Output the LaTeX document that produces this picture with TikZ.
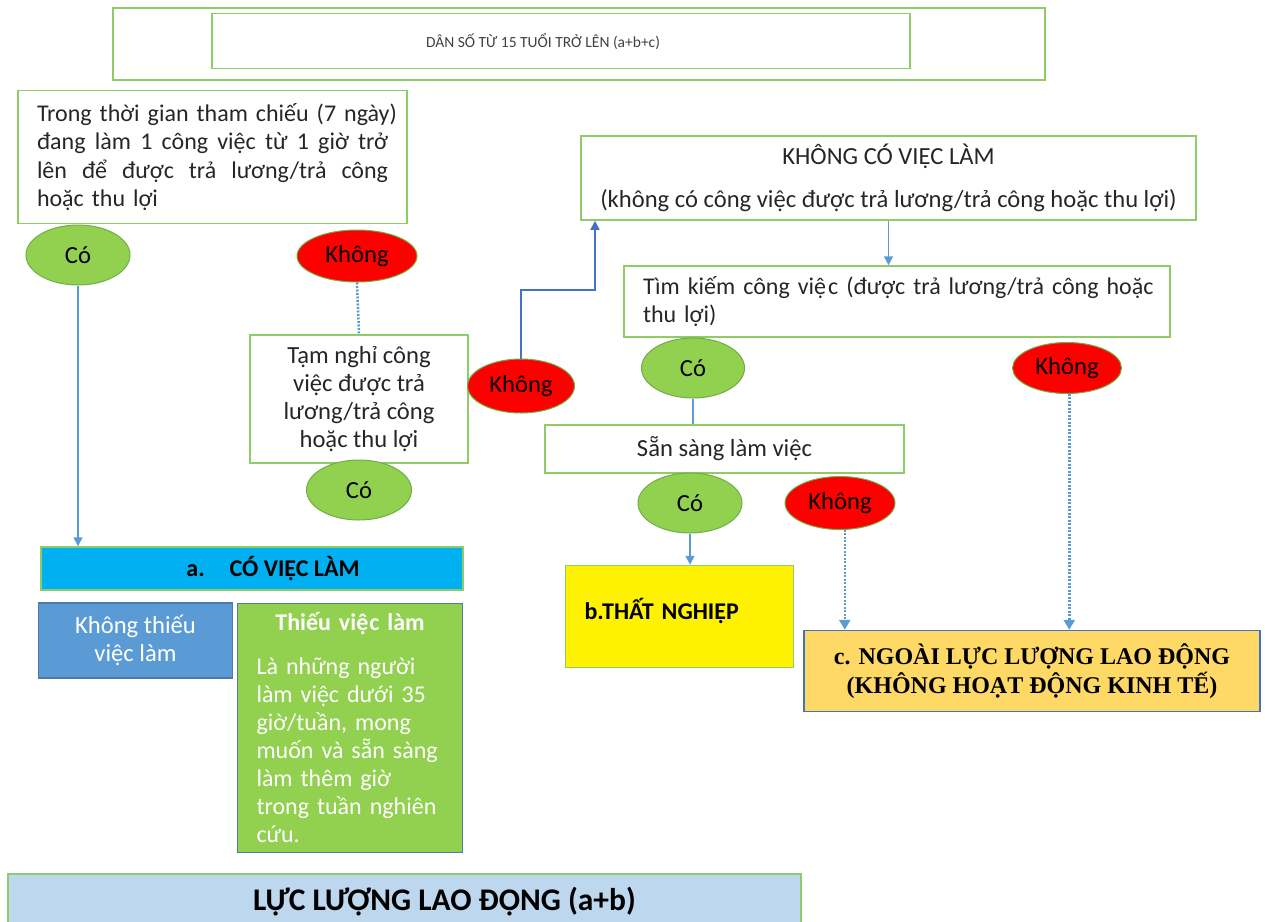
\documentclass[tikz,border=0pt]{standalone}
\usepackage{fontspec}
\setmainfont{Carlito}
\newfontfamily\serifbf{Liberation Serif}
\usetikzlibrary{shapes.geometric,arrows.meta}

\definecolor{boxgreen}{RGB}{143,204,104}
\definecolor{leafgreen}{RGB}{146,208,80}
\definecolor{rimgreen}{RGB}{112,173,71}
\definecolor{skyblue}{RGB}{0,176,240}
\definecolor{midblue}{RGB}{91,155,213}
\definecolor{deepblue}{RGB}{68,114,196}
\definecolor{slate}{RGB}{80,120,170}
\definecolor{paleblue}{RGB}{189,215,238}
\definecolor{gold}{RGB}{255,217,102}
\definecolor{inkgray}{RGB}{38,38,38}

\tikzset{
  txt/.style={font=\fontsize{24.6}{28}\selectfont, text=inkgray},
  plainbox/.style={rectangle, draw=boxgreen, line width=1.5pt, inner sep=0pt, txt},
  yesoval/.style={ellipse, draw=rimgreen, line width=1pt, fill=leafgreen, inner sep=0pt, txt, text=black},
  nooval/.style={yesoval, fill=red},
  link/.style={draw=midblue, line width=1.5pt},
  arr/.style={link, -{Triangle[width=9pt,length=9pt]}},
  dotted line/.style={link, line width=2.5pt, dash pattern=on 2pt off 1.5pt},
  dotarr/.style={dotted line, -{Triangle[width=11pt,length=10pt]}}
}

\begin{document}
\begin{tikzpicture}[x=1pt,y=-1pt]
\useasboundingbox (0,0) rectangle (1265,921);

% top
\node[plainbox, minimum width=932, minimum height=72] (popframe) at (579,44) {};
\node[plainbox, minimum width=698, minimum height=55, font=\fontsize{15.5}{18}\selectfont, text=black!75] (pop) at (561,41)
  {DÂN SỐ TỪ 15 TUỔI TRỞ LÊN (a+b+c)\hspace*{36pt}};

% left branch
\node[plainbox, minimum width=389, minimum height=133, text width=351, align=left,
  font=\fontsize{24}{28.5}\selectfont] (ref) at (212.5,157)
  {\makebox[351pt][s]{Trong thời gian tham chiếu (7 ngày)}\\
   \makebox[351pt][s]{đang\hfill làm\hfill 1\hfill công\hfill việc\hfill từ\hfill 1\hfill giờ\hfill trở}\\
   \makebox[351pt][s]{lên\hfill để\hfill được\hfill trả\hfill lương/trả\hfill công}\\
   hoặc thu lợi};
\node[yesoval, minimum width=104, minimum height=60] (yes1) at (78,255) {Có};
\node[nooval, minimum width=120, minimum height=52] (no1) at (357,256) {Không};
\node[plainbox, minimum width=218, minimum height=128, align=center] (pause) at (359,399)
  {Tạm nghỉ công\\việc được trả\\lương/trả công\\hoặc thu lợi};
\node[yesoval, minimum width=105, minimum height=60] (yes2) at (359,490) {Có};
\node[nooval, minimum width=107, minimum height=54] (no2) at (521,386) {Không};

% right branch
\node[plainbox, minimum width=615, minimum height=84, align=center] (jobless) at (888.5,178)
  {KHÔNG CÓ VIỆC LÀM\\[15pt](không có công việc được trả lương/trả công hoặc thu lợi)};
\node[plainbox, minimum width=546, minimum height=71, text width=508, align=left,
  font=\fontsize{24}{28}\selectfont] (search) at (897,301.5)
  {\mbox{Tìm kiếm công việ\kern2pt c (được trả lương/trả công hoặc}\\thu lợi)};
\node[yesoval, minimum width=103, minimum height=60] (yes3) at (693,368) {Có};
\node[nooval, minimum width=109, minimum height=51] (no3) at (1067,368) {Không};
\node[plainbox, minimum width=359, minimum height=48] (ready) at (724.5,449) {Sẵn sàng làm việc};
\node[yesoval, minimum width=104, minimum height=60] (yes4) at (690,503) {Có};
\node[nooval, minimum width=110, minimum height=53] (no4) at (840,503) {Không};

% outcomes
\node[plainbox, fill=yellow, minimum width=228, minimum height=102, text width=190, align=left,
  font=\bfseries\fontsize{24}{28}\selectfont, text=black] (unemp) at (679.5,616.5) {\raisebox{15pt}{b.THẤT NGHIỆP}};
\node[rectangle, draw=deepblue, fill=gold, line width=1.5pt, minimum width=456, minimum height=81, inner sep=0pt,
  align=center, font=\serifbf\bfseries\fontsize{24}{29}\selectfont] (outside) at (1032,671)
  {c. NGOÀI LỰC LƯỢNG LAO ĐỘNG\\(KHÔNG HOẠT ĐỘNG KINH TẾ)};
\node[plainbox, fill=skyblue, minimum width=422, minimum height=43, font=\bfseries\fontsize{24}{28}\selectfont,
  text=black] (employed) at (252,568.5) {\hspace*{42pt}a.\hspace{25pt}CÓ VIỆC LÀM};
\node[rectangle, draw=slate, fill=midblue, line width=1.5pt, minimum width=194, minimum height=75, inner sep=0pt,
  align=center, txt, text=white] (fulltime) at (135.5,640.5) {Không thiếu\\việc làm};
\node[rectangle, draw=slate, fill=leafgreen, line width=1.5pt, minimum width=225, minimum height=249, inner sep=0pt,
  text width=187, align=left, font=\fontsize{24}{28}\selectfont, text=white] (under) at (350,728)
  {{\centering\bfseries Thiếu việ\kern1pt c làm\par}\vspace{16pt}
   Là những người\\làm việc dưới 35\\giờ/tuần, mong\\muốn và sẵn sàng\\làm thêm giờ\\trong tuần nghiên\\cứu.};
\node[plainbox, fill=paleblue, minimum width=793, minimum height=56, font=\bfseries\fontsize{31.5}{34}\selectfont,
  text=black] (labour) at (404.5,902) {\hspace*{80pt}LỰC LƯỢNG LAO ĐỘNG (a+b)};

% connectors
\coordinate (turn) at (595,290);
\draw[arr] (yes1.south) -- (yes1.south |- employed.north);
\draw[dotted line] (no1.south) -- (pause.north);
\draw[arr, draw=deepblue] (no2.north) |- (turn) -- (turn |- jobless.south);
\draw[arr] (jobless.south) -- (jobless.south |- search.north);
\draw[link] (yes3.south) -- (yes3.south |- ready.north);
\draw[arr] (yes4.south) -- (yes4.south |- unemp.north);
\draw[dotarr] (no4.-80) -- (no4.-80 |- outside.north);
\draw[dotarr] (no3.-85) -- (no3.-85 |- outside.north);
\end{tikzpicture}
\end{document}
